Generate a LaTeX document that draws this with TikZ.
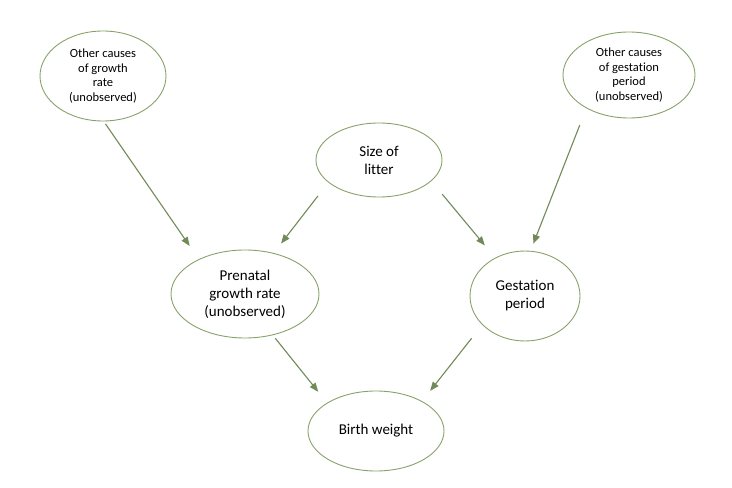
\documentclass[tikz,border=0pt]{standalone}
\usepackage{fontspec}
\setmainfont{Carlito}[Ligatures=NoCommon]
\usetikzlibrary{arrows.meta,shapes.geometric}
\definecolor{ellcol}{RGB}{135,162,105}
\definecolor{arrcol}{RGB}{112,138,88}
\tikzset{
  bubble/.style={ellipse, draw=ellcol, line width=0.9pt, inner sep=0pt, align=center, text=black},
  bigtxt/.style={font=\fontsize{15}{18}\selectfont},
  smalltxt/.style={font=\fontsize{12.5}{14.5}\selectfont},
  link/.style={draw=arrcol, line width=1.1pt, -{Triangle[length=9pt,width=7pt]}}
}
\begin{document}
\begin{tikzpicture}[x=1pt,y=1pt]
\useasboundingbox (0,0) rectangle (732,488);
\node[bubble, smalltxt, minimum width=126pt, minimum height=90pt] (g1) at (103,412) {Other causes\\of growth\\rate\\(unobserved)};
\node[bubble, smalltxt, minimum width=132pt, minimum height=86pt] (g2) at (629,413) {Other causes\\of gestation\\period\\(unobserved)};
\node[bubble, bigtxt, minimum width=126pt, minimum height=74pt] (litter) at (379,328) {Size of\\litter};
\node[bubble, bigtxt, minimum width=148pt, minimum height=88pt] (pre) at (245,194) {Prenatal\\growth rate\\(unobserved)};
\node[bubble, bigtxt, minimum width=110pt, minimum height=90pt] (gest) at (525,192) {Gestation\\period};
\node[bubble, bigtxt, minimum width=136pt, minimum height=80pt] (bw) at (376,57) {Birth weight};
\draw[link, shorten <=3pt, shorten >=16pt] (g1.-89) -- (pre.143);
\draw[link, shorten <=17pt, shorten >=12pt] (litter.204) -- (pre.55);
\draw[link, shorten <=17pt, shorten >=16pt] (litter.338) -- (gest.128);
\draw[link, shorten <=18pt, shorten >=7.5pt] (g2.218) -- (gest.83);
\draw[link, shorten <=4pt, shorten >=14pt] (pre.304) -- (bw.150);
\draw[link, shorten <=17pt, shorten >=13pt] (gest.214) -- (bw.33);
\end{tikzpicture}
\end{document}
